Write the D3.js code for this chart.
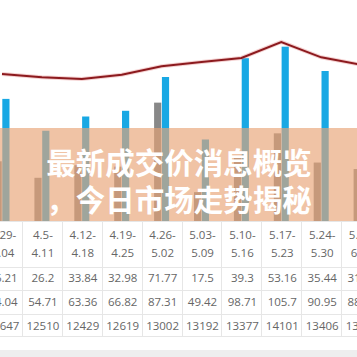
<!DOCTYPE html>
<html>
<head>
<meta charset="utf-8">
<script src="https://cdn.jsdelivr.net/npm/d3@7"></script>
<style>
  html, body { margin: 0; padding: 0; background: #fff; }
  svg { display: block; }
</style>
</head>
<body>
<div id="svgcontainer"></div>
<script>
// global variables
var WIDTH = 357;
var HEIGHT = 357;
var BASE_Y = 221;      // bottom of plot / top of table
var COL_W = 39.9;
var FIRST_X = 2;

// data
var weeks = ["3.29-4.04", "4.5-4.11", "4.12-4.18", "4.19-4.25", "4.26-5.02",
             "5.03-5.09", "5.10-5.16", "5.17-5.23", "5.24-5.30", "5.31-6.06"];
var volumeA = [36.21, 26.2, 33.84, 32.98, 71.77, 17.5, 39.3, 53.16, 35.44, 31.52];
var volumeB = [74.04, 54.71, 63.36, 66.82, 87.31, 49.42, 98.71, 105.7, 90.95, 88.14];
var price = [12647, 12510, 12429, 12619, 13002, 13192, 13377, 14101, 13406, 13065];
var titleLines = ["最新成交价消息概览", "，今日市场走势揭秘"];

var svg_container = d3.select("#svgcontainer")
    .append("svg")
    .attr("width", WIDTH)
    .attr("height", HEIGHT);

svg_container.append("rect")
    .attr("width", WIDTH).attr("height", HEIGHT)
    .attr("fill", "#ffffff");

// x position of each week group
var x = d3.scaleLinear()
    .domain([0, weeks.length - 1])
    .range([FIRST_X, FIRST_X + COL_W * (weeks.length - 1)]);

var yBar = d3.scaleLinear().domain([0, 134]).range([BASE_Y, 0]);
var yLine = d3.scaleLinear().domain([6000, 16000]).range([BASE_Y, 0]);

var inner = d3.scaleBand().domain(["a", "b"]).range([-7.5, 7.5]).paddingInner(0.08);

// bars
var groups = svg_container.selectAll("g.week")
    .data(weeks)
    .enter().append("g")
    .attr("class", "week")
    .attr("transform", function(d, i) { return "translate(" + x(i) + ",0)"; });

groups.append("rect")
    .attr("x", inner("a"))
    .attr("width", inner.bandwidth())
    .attr("y", function(d, i) { return yBar(volumeA[i]); })
    .attr("height", function(d, i) { return BASE_Y - yBar(volumeA[i]); })
    .attr("fill", "#888888");

groups.append("rect")
    .attr("x", inner("b"))
    .attr("width", inner.bandwidth())
    .attr("y", function(d, i) { return yBar(volumeB[i]); })
    .attr("height", function(d, i) { return BASE_Y - yBar(volumeB[i]); })
    .attr("fill", "#18a8e4");

// price line
var line = d3.line()
    .x(function(d, i) { return x(i); })
    .y(function(d) { return yLine(d); });

svg_container.append("path")
    .datum(price)
    .attr("d", line)
    .attr("fill", "none")
    .attr("stroke", "#e07a7a")
    .attr("stroke-opacity", 0.35)
    .attr("stroke-width", 4);

svg_container.append("path")
    .datum(price)
    .attr("d", line)
    .attr("fill", "none")
    .attr("stroke", "#8c1a1e")
    .attr("stroke-width", 2);

// peach overlay band with title
svg_container.append("rect")
    .attr("x", 0).attr("y", 128)
    .attr("width", WIDTH).attr("height", BASE_Y - 128)
    .attr("fill", "#e8a375")
    .attr("fill-opacity", 0.65);

svg_container.selectAll("text.title")
    .data(titleLines)
    .enter().append("text")
    .attr("class", "title")
    .attr("x", 179)
    .attr("y", function(d, i) { return 174 + i * 37; })
    .attr("text-anchor", "middle")
    .attr("font-family", "'Noto Sans CJK SC', sans-serif")
    .attr("font-weight", "bold")
    .attr("font-size", 29.5)
    .attr("fill", "#ffffff")
    .text(function(d) { return d; });

// table under the chart
var rowLines = [BASE_Y, 267, 290, 314, 336];
svg_container.selectAll("line.hgrid")
    .data(rowLines)
    .enter().append("line")
    .attr("x1", 0).attr("x2", WIDTH)
    .attr("y1", function(d) { return d + 0.5; })
    .attr("y2", function(d) { return d + 0.5; })
    .attr("stroke", "#e6e6e6");

svg_container.selectAll("line.vgrid")
    .data(weeks)
    .enter().append("line")
    .attr("x1", function(d, i) { return Math.round(x(i) + COL_W / 2) + 0.5; })
    .attr("x2", function(d, i) { return Math.round(x(i) + COL_W / 2) + 0.5; })
    .attr("y1", BASE_Y)
    .attr("y2", 336)
    .attr("stroke", "#e6e6e6");

svg_container.append("rect")
    .attr("x", 0).attr("y", 350)
    .attr("width", WIDTH).attr("height", 7)
    .attr("fill", "#eeeeee");

function cellText(rowY, fmt) {
    svg_container.append("g").selectAll("text")
        .data(weeks)
        .enter().append("text")
        .attr("x", function(d, i) { return x(i) + 1; })
        .attr("y", rowY)
        .attr("text-anchor", "middle")
        .attr("font-family", "'Open Sans', sans-serif")
        .attr("font-size", 11.5)
        .attr("fill", "#666666")
        .text(fmt);
}

cellText(239, function(d) { return d.split("-")[0] + "-"; });
cellText(257, function(d) { return d.split("-")[1]; });
cellText(282, function(d, i) { return volumeA[i]; });
cellText(306, function(d, i) { return volumeB[i]; });
cellText(330, function(d, i) { return price[i]; });
</script>
</body>
</html>
